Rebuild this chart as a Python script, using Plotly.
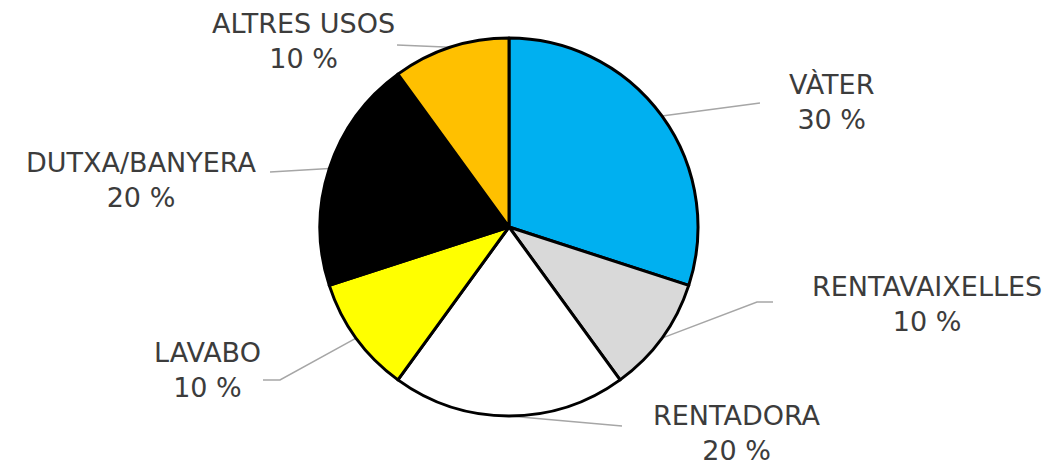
import math
import plotly.graph_objects as go

# Domestic water use by appliance (percent of total)
categories = ["VÀTER", "RENTAVAIXELLES", "RENTADORA", "LAVABO", "DUTXA/BANYERA", "ALTRES USOS"]
values = [30, 10, 20, 10, 20, 10]
colors = ["#00B0F0", "#D9D9D9", "#FFFFFF", "#FFFF00", "#000000", "#FFC000"]

W, H = 1062, 465
CX, CY, R = 509, 227, 189  # pie centre and radius in pixels

# Label anchor (text centre) and optional elbow point for each leader line, in pixels
label_pos = {
    "VÀTER": (831, 102),
    "RENTAVAIXELLES": (927, 304),
    "RENTADORA": (737, 433),
    "LAVABO": (207, 370),
    "DUTXA/BANYERA": (141, 180),
    "ALTRES USOS": (303, 41),
}
leader_end = {
    "VÀTER": [(760, 103)],
    "RENTAVAIXELLES": [(757, 302), (773, 302)],
    "RENTADORA": [(622, 426)],
    "LAVABO": [(280, 380), (263, 380)],
    "DUTXA/BANYERA": [(270, 172)],
    "ALTRES USOS": [(397, 45)],
}

fig = go.Figure()

fig.add_trace(go.Pie(
    labels=categories,
    values=values,
    sort=False,
    direction="clockwise",
    rotation=0,
    marker=dict(colors=colors, line=dict(color="#000000", width=3)),
    textinfo="none",
    hoverinfo="label+percent",
    showlegend=False,
    domain=dict(x=[(CX - R) / W, (CX + R) / W], y=[1 - (CY + R) / H, 1 - (CY - R) / H]),
))

total = sum(values)
cum = 0
annotations = []
for name, v in zip(categories, values):
    mid = (cum + v / 2) / total * 2 * math.pi
    cum += v
    sx = CX + R * math.sin(mid)
    sy = CY - R * math.cos(mid)
    pts = [(sx, sy)] + leader_end[name]
    fig.add_trace(go.Scatter(
        x=[p[0] for p in pts], y=[p[1] for p in pts],
        mode="lines", line=dict(color="#A6A6A6", width=1.5),
        hoverinfo="skip", showlegend=False,
    ))
    lx, ly = label_pos[name]
    annotations.append(dict(
        x=lx, y=ly, xref="x", yref="y", showarrow=False,
        text=f"{name}<br>{v} %", align="center",
        font=dict(family="DejaVu Sans", size=27, color="#3C3C3C"),
        xanchor="center", yanchor="middle",
    ))

fig.update_layout(
    width=W, height=H,
    margin=dict(l=0, r=0, t=0, b=0),
    paper_bgcolor="#FFFFFF", plot_bgcolor="rgba(0,0,0,0)",
    xaxis=dict(range=[0, W], visible=False, fixedrange=True),
    yaxis=dict(range=[H, 0], visible=False, fixedrange=True),
    annotations=annotations,
)

fig.write_html("out.html")
